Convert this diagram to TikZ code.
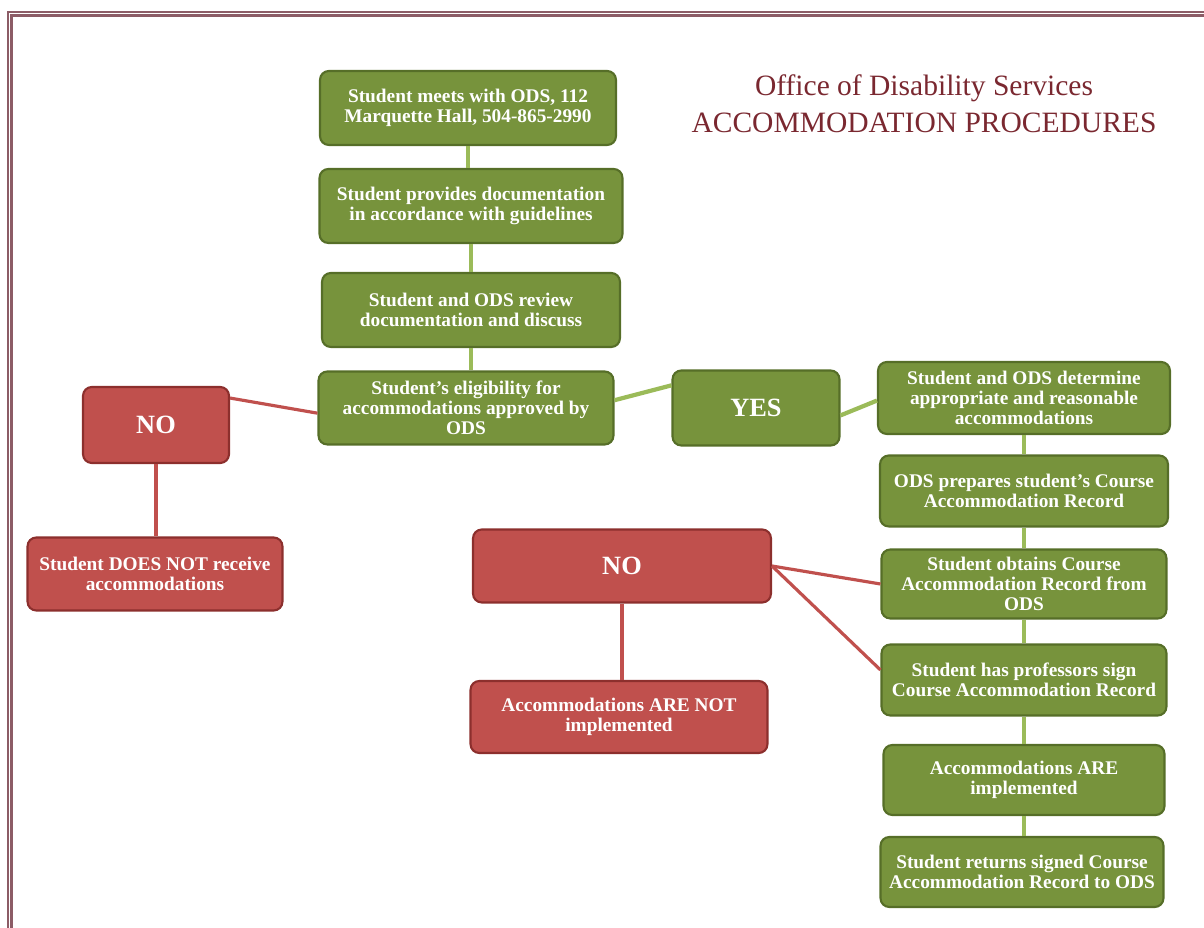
\documentclass[tikz,border=0pt]{standalone}
\usepackage{fontspec}
\setmainfont{Liberation Serif}
\usetikzlibrary{positioning}

\definecolor{odsgreen}{RGB}{119,147,60}
\definecolor{odsgreenline}{RGB}{86,110,40}
\definecolor{odslink}{RGB}{155,187,89}
\definecolor{odsred}{RGB}{192,80,77}
\definecolor{odsredline}{RGB}{140,47,45}
\definecolor{odstitle}{RGB}{122,40,48}
\definecolor{odsframe}{RGB}{140,92,102}

\begin{document}
\begin{tikzpicture}[x=0.02cm,y=-0.02cm,
  greenbox/.style={draw=odsgreenline,fill=odsgreen,line width=1.2pt,rounded corners=5pt,
    text=white,align=center,inner sep=0pt,font=\bfseries\fontsize{11}{11.4}\selectfont},
  redbox/.style={greenbox,draw=odsredline,fill=odsred},
  bigword/.style={font=\bfseries\fontsize{15}{17}\selectfont},
  gline/.style={draw=odslink,line width=2.4pt},
  rline/.style={draw=odsred,line width=1.8pt}]

\useasboundingbox (0,0) rectangle (1204,928);

% page frame
\draw[odsframe,line width=1.2pt] (8,928) -- (8,12) -- (1204,12);
\draw[odsframe,line width=1.2pt] (11.5,928) -- (11.5,15.5) -- (1204,15.5);

\node[font=\fontsize{16.8}{21}\selectfont,text=odstitle,align=center] (title) at (924,104)
  {Office of Disability Services\\ACCOMMODATION PROCEDURES};

% main column
\node[greenbox,minimum width=5.92cm,minimum height=1.48cm] (meet) at (468,108)
  {Student meets with ODS, 112\\Marquette Hall, 504-865-2990};
\node[greenbox,minimum width=6.06cm,minimum height=1.48cm] (provide) at (471,206)
  {Student provides documentation\\in accordance with guidelines};
\node[greenbox,minimum width=5.96cm,minimum height=1.48cm] (review) at (471,310)
  {Student and ODS review\\documentation and discuss};
\node[greenbox,minimum width=5.9cm,minimum height=1.46cm] (elig) at (466,408)
  {Student's eligibility for\\accommodations approved by\\ODS};
\node[greenbox,bigword,minimum width=3.34cm,minimum height=1.5cm] (yes) at (756,408) {YES};

% right column
\node[greenbox,minimum width=5.84cm,minimum height=1.44cm] (determine) at (1024,398)
  {Student and ODS determine\\appropriate and reasonable\\accommodations};
\node[greenbox,minimum width=5.76cm,minimum height=1.42cm] (prepare) at (1024,491)
  {ODS prepares student's Course\\Accommodation Record};
\node[greenbox,minimum width=5.7cm,minimum height=1.38cm] (obtain) at (1024,584)
  {Student obtains Course\\Accommodation Record from\\ODS};
\node[greenbox,minimum width=5.7cm,minimum height=1.42cm] (sign) at (1024,680)
  {Student has professors sign\\Course Accommodation Record};
\node[greenbox,minimum width=5.62cm,minimum height=1.4cm] (implement) at (1024,780)
  {Accommodations ARE\\implemented};
\node[greenbox,minimum width=5.66cm,minimum height=1.4cm] (return) at (1022,872)
  {Student returns signed Course\\Accommodation Record to ODS};

% the two NO branches
\node[redbox,bigword,minimum width=2.92cm,minimum height=1.52cm] (noA) at (156,425) {NO};
\node[redbox,minimum width=5.1cm,minimum height=1.46cm] (noAend) at (155,574)
  {Student DOES NOT receive\\accommodations};
\node[redbox,bigword,minimum width=5.96cm,minimum height=1.46cm] (noB) at (622,566) {NO};
\node[redbox,minimum width=5.94cm,minimum height=1.44cm] (noBend) at (619,717)
  {Accommodations ARE NOT\\implemented};

% connectors
\draw[gline] (meet.south) -- (meet.south |- provide.north);
\draw[gline] (provide.south) -- (provide.south |- review.north);
\draw[gline] (review.south) -- (review.south |- elig.north);
\draw[gline] (elig.3) -- (yes.165);
\draw[gline] (yes.-5) -- (determine.181);
\foreach \a/\b in {determine/prepare,prepare/obtain,obtain/sign,sign/implement,implement/return}
  \draw[gline] (\a.south) -- (\a.south |- \b.north);

\draw[rline] (noA.20) -- (elig.182);
\draw[rline] (noA.south) -- (noA.south |- noAend.north);
\draw[rline] (noB.east) -- (obtain.west);
\draw[rline] (noB.east) -- (sign.176);
\draw[rline] (noB.south) -- (noB.south |- noBend.north);

\end{tikzpicture}
\end{document}
